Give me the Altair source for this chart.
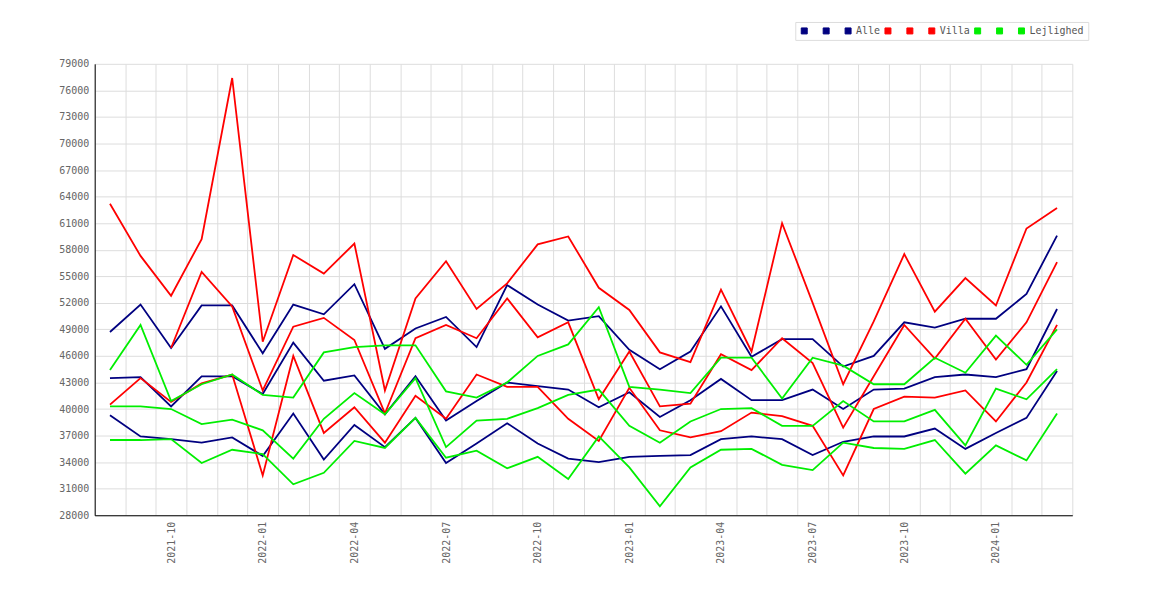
import altair as alt
import pandas as pd

months = ["2021-08", "2021-09", "2021-10", "2021-11", "2021-12",
          "2022-01", "2022-02", "2022-03", "2022-04", "2022-05", "2022-06",
          "2022-07", "2022-08", "2022-09", "2022-10", "2022-11", "2022-12",
          "2023-01", "2023-02", "2023-03", "2023-04", "2023-05", "2023-06",
          "2023-07", "2023-08", "2023-09", "2023-10", "2023-11", "2023-12",
          "2024-01", "2024-02", "2024-03"]

alle_hi = [48700, 51800, 46900, 51700, 51700, 46300, 51800, 50700, 54100, 46800, 49100,
           50400, 47000, 54000, 51800, 50000, 50500, 46700, 44500, 46500, 51600, 45900,
           47900, 47900, 44800, 46000, 49800, 49200, 50200, 50200, 53000, 59600]
alle_mid = [43500, 43600, 40300, 43700, 43700, 41700, 47500, 43200, 43800, 39400, 43700,
            38700, 40900, 43000, 42600, 42200, 40200, 41900, 39100, 41000, 43400, 41000,
            41000, 42200, 40000, 42200, 42300, 43600, 43900, 43600, 44500, 51300]
alle_lo = [39300, 36900, 36600, 36200, 36800, 34700, 39500, 34300, 38200, 35700, 39000,
           33900, 36100, 38400, 36100, 34400, 34000, 34600, 34700, 34800, 36600, 36900,
           36600, 34800, 36300, 36900, 36900, 37800, 35500, 37300, 39000, 44300]

villa_hi = [63200, 57300, 52800, 59200, 77400, 47600, 57400, 55300, 58700, 42100, 52500,
            56700, 51300, 54200, 58600, 59500, 53700, 51200, 46400, 45300, 53500, 46500,
            61000, 52000, 42800, 49900, 57500, 51000, 54800, 51700, 60400, 62700]
villa_mid = [None, None, 46900, 55500, 51600, 42100, 49300, 50300, 47800, 39500, 48000,
             49500, 48000, 52500, 48100, 49800, 41100, 46500, 40300, 40600, 46200, 44400,
             48000, 45200, 37900, 43700, 49500, 45700, 50200, 45600, 49800, 56600]
villa_lo = [40500, 43500, 40800, 42900, 43900, 32500, 46000, 37300, 40200, 36200, 41500,
            38900, 43900, 42500, 42500, 38900, 36400, 42400, 37600, 36800, 37500, 39600,
            39200, 38100, 32500, 40000, 41400, 41300, 42100, 38600, 43000, 49500]

lejl_hi = [44400, 49500, 40900, 42800, 43900, 41600, 41300, 46400, 47000, 47200, 47200,
           42000, 41300, 43000, 46000, 47300, 51500, 42500, 42200, 41800, 45800, 45800,
           41200, 45800, 44900, 42800, 42800, 45800, 44100, 48300, 45000, 49000]
lejl_mid = [40300, 40300, 40000, 38300, 38800, 37600, 34400, 38900, 41800, 39400, 43500,
            35700, 38700, 38900, 40100, 41600, 42200, 38100, 36200, 38600, 40000, 40100,
            38100, 38100, 40900, 38600, 38600, 39900, 35900, 42300, 41100, 44500]
lejl_lo = [36500, 36500, 36600, 33900, 35400, 34900, 31500, 32800, 36400, 35600, 39000,
           34500, 35300, 33300, 34600, 32100, 36900, 33400, 29000, 33400, 35400, 35500,
           33700, 33100, 36200, 35600, 35500, 36500, 32700, 35900, 34200, 39500]

series_keys = ["Alle_1", "Alle_2", "Alle", "Villa_1", "Villa_2", "Villa",
               "Lejlighed_1", "Lejlighed_2", "Lejlighed"]
series_values = [alle_hi, alle_mid, alle_lo, villa_hi, villa_mid, villa_lo,
                 lejl_hi, lejl_mid, lejl_lo]
series_colors = ["#000080", "#000080", "#000080", "#ff0000", "#ff0000", "#ff0000",
                 "#00ee00", "#00ee00", "#00ee00"]
legend_names = ["Alle", "Villa", "Lejlighed"]
y_ticks = [28000, 31000, 34000, 37000, 40000, 43000, 46000, 49000, 52000, 55000,
           58000, 61000, 64000, 67000, 70000, 73000, 76000, 79000]

rows = []
for order, (key, vals) in enumerate(zip(series_keys, series_values)):
    for m, v in zip(months, vals):
        if v is not None:
            rows.append({"month": m, "value": v, "series": key, "order": order})
df = pd.DataFrame(rows)

FONT = "DejaVu Sans Mono"

# blank legend labels use an invisible (Braille blank) glyph so they keep a width
label_expr = ("indexof(" + str(legend_names) +
              ", datum.label) >= 0 ? datum.label : '\u2800'")

x_enc = alt.X("month:O", sort=months, bandPosition=0.5,
              scale=alt.Scale(type="band", paddingInner=0, paddingOuter=0),
              axis=alt.Axis(title=None, tickBand="extent", ticks=False, grid=True,
                            gridColor="#dddddd", domainColor="#000000",
                            labelAngle=270, labelAlign="right", labelBaseline="middle",
                            labelPadding=6, labelOverlap=False,
                            labelFont=FONT, labelFontSize=10, labelColor="#666666",
                            labelExpr="indexof(['01','04','07','10'], substring(datum.value, 5, 7)) >= 0 ? datum.value : ''"))
y_enc = alt.Y("value:Q",
              scale=alt.Scale(domain=[28000, 79000], nice=False, zero=False),
              axis=alt.Axis(title=None, values=y_ticks, format="d", ticks=False,
                            grid=True, gridColor="#dddddd", domainColor="#000000",
                            labelPadding=6, labelFont=FONT, labelFontSize=10,
                            labelColor="#666666"))

legend_def = alt.Legend(
    orient="none", legendX=703, legendY=-42,
    direction="horizontal", columns=9, title=None,
    symbolType="square", symbolSize=36, symbolStrokeWidth=1,
    symbolStrokeColor="#555555",
    labelExpr=label_expr, labelFont=FONT, labelFontSize=10,
    labelColor="#555555", labelOffset=3, columnPadding=2,
    padding=4, strokeColor="#dddddd", fillColor="white",
    cornerRadius=0)

base = alt.Chart(df)

legend_layer = base.transform_filter("false").mark_point(
    shape="square", filled=True, opacity=1
).encode(
    x=x_enc, y=y_enc,
    fill=alt.Fill("series:N", scale=alt.Scale(domain=series_keys, range=series_colors),
                  legend=legend_def),
)

lines = base.mark_line(strokeWidth=1.8).encode(
    x=x_enc, y=y_enc,
    stroke=alt.Stroke("series:N", scale=alt.Scale(domain=series_keys, range=series_colors),
                      legend=None),
    order=alt.Order("order:Q"),
)

chart = alt.layer(legend_layer, lines).properties(
    width=981, height=453,
    autosize=alt.AutoSizeParams(type="none"),
    padding={"left": 87, "top": 55, "right": 90, "bottom": 80},
).configure_view(stroke=None)

chart.save("out.html", embed_options={"renderer": "svg", "actions": False})
